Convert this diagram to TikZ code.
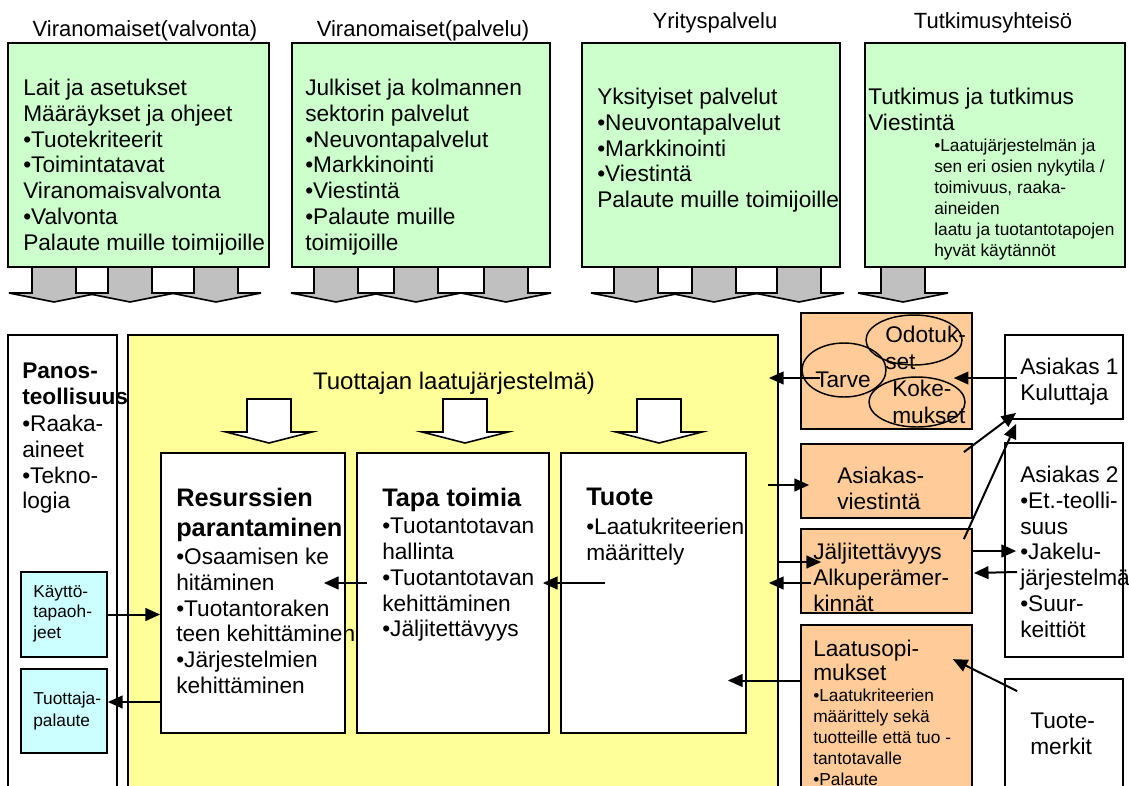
\documentclass[tikz,border=0pt]{standalone}
\usepackage{fontspec}
\setmainfont{Liberation Sans}
\usepackage{tikz}
\usetikzlibrary{fit,positioning,calc,arrows.meta,shapes.geometric}

\definecolor{grn}{RGB}{204,255,204}
\definecolor{yel}{RGB}{255,255,153}
\definecolor{org}{RGB}{255,204,153}
\definecolor{cyn}{RGB}{204,255,255}
\definecolor{gry}{RGB}{192,192,192}

\tikzset{
  bx/.style={draw, line width=1.3pt, inner sep=0pt},
  gbox/.style={bx, fill=grn},
  obox/.style={bx, fill=org},
  cbox/.style={bx, fill=cyn},
  wbox/.style={bx, fill=white},
  ell/.style={draw, ellipse, line width=1.1pt, inner sep=0pt},
  txt/.style={anchor=north west, inner sep=0pt, align=left, font=\fontsize{17}{19.3}\selectfont},
  sml/.style={txt, font=\fontsize{13}{15.75}\selectfont},
  hd/.style={txt, font=\bfseries\fontsize{19}{22.5}\selectfont},
  ttl/.style={inner sep=0pt, font=\fontsize{16.5}{19}\selectfont},
  garr/.style={draw, line width=1.2pt, fill=gry, line join=miter},
  harr/.style={draw, line width=1.2pt, fill=white, line join=miter},
  arr/.style={line width=1.5pt, -{Triangle[length=11pt,width=9.5pt]}},
}

\begin{document}
\begin{tikzpicture}[x=0.75pt,y=0.75pt,yscale=-1,xscale=1]
\useasboundingbox (0,0) rectangle (1129,786);
\clip (0,0) rectangle (1129,786);

% Titles
\node[ttl] (valvtit) at (145,31) {Viranomaiset(valvonta)};
\node[ttl] (palvtit) at (423,31) {Viranomaiset(palvelu)};
\node[ttl] (yrittit) at (715,23) {Yrityspalvelu};
\node[ttl] (tutktit) at (993,23) {Tutkimusyhteisö};

%Shape: green boxes
\node[gbox, fit={(8,43) (269,267)}] (valv) {};
\node[gbox, fit={(292,43) (550,267)}] (palv) {};
\node[gbox, fit={(582,43) (840,267)}] (yrit) {};
\node[gbox, fit={(865,43) (1125,267)}] (tutk) {};

%Shape: grey block arrows
\foreach \cx in {54,130,216,336,416,506,636,714,799,903}
  \draw[garr] (\cx-22,267) -- (\cx+22,267) -- (\cx+22,293) -- (\cx+45,293) -- (\cx,302) -- (\cx-45,293) -- (\cx-22,293) -- cycle;

% Text Node
\node[txt] (valvtxt) at (23,79) {Lait ja asetukset\\Määräykset ja ohjeet\\•Tuotekriteerit\\•Toimintatavat\\Viranomaisvalvonta\\•Valvonta\\Palaute muille toimijoille};
% Text Node
\node[txt] (palvtxt) at (305,79) {Julkiset ja kolmannen\\sektorin palvelut\\•Neuvontapalvelut\\•Markkinointi\\•Viestintä\\•Palaute muille\\toimijoille};
% Text Node
\node[txt] (yrittxt) at (597,88) {Yksityiset palvelut\\•Neuvontapalvelut\\•Markkinointi\\•Viestintä\\Palaute muille toimijoille};
% Text Node
\node[txt] (tutktxt) at (868,88) {Tutkimus ja tutkimus\\Viestintä};
\node[sml] (tutksml) at (934,139) {•Laatujärjestelmän ja\\sen eri osien nykytila /\\toimivuus, raaka-\\aineiden\\laatu ja tuotantotapojen\\hyvät käytännöt};

%Shape: lower frames
\node[wbox, fit={(8,335) (117,800)}] (panos) {};
\node[bx, fill=yel, fit={(128,335) (778,800)}] (yel) {};
\node[font=\fontsize{18}{21}\selectfont, inner sep=0pt] (yeltit) at (454,383) {Tuottajan laatujärjestelmä)};

%Shape: hollow arrows
\foreach \cx in {269,465,659}
  \draw[harr] (\cx-22,399) -- (\cx+22,399) -- (\cx+22,432) -- (\cx+43,432) -- (\cx,443) -- (\cx-43,432) -- (\cx-22,432) -- cycle;

\node[wbox, fit={(161,453) (345,733)}] (res) {};
\node[wbox, fit={(357,453) (549,733)}] (tapa) {};
\node[wbox, fit={(561,453) (746,733)}] (tuote) {};
\node[cbox, fit={(21,572) (107,657)}] (kay) {};
\node[cbox, fit={(21,669) (107,753)}] (tpal) {};

% Text Node
\node[txt, font=\bfseries\fontsize{17}{19.3}\selectfont] (panostit) at (22,363) {Panos-\\teollisuus};
\node[txt] (panostxt) at (22,415) {•Raaka-\\aineet\\•Tekno-\\logia};
\node[hd] (restit) at (176,488) {Resurssien\\parantaminen};
\node[txt] (restxt) at (176,548) {•Osaamisen ke\\hitäminen\\•Tuotantoraken\\teen kehittäminen\\•Järjestelmien\\kehittäminen};
\node[hd] (tapatit) at (382,488) {Tapa toimia};
\node[txt] (tapatxt) at (382,518) {•Tuotantotavan\\hallinta\\•Tuotantotavan\\kehittäminen\\•Jäljitettävyys};
\node[hd] (tuotetit) at (586,488) {Tuote};
\node[txt] (tuotetxt) at (586,518) {•Laatukriteerien\\määrittely};
\node[txt, font=\fontsize{13}{15.4}\selectfont] (kaytxt) at (33,585) {Käyttö-\\tapaoh-\\jeet};
\node[txt, font=\fontsize{13}{16.5}\selectfont] (tpaltxt) at (33,692) {Tuottaja-\\palaute};

%Shape: right column
\node[obox, fit={(801,313) (972,429)}] (odo) {};
\node[obox, fit={(801,444) (972,518)}] (asv) {};
\node[obox, fit={(801,529) (972,613)}] (jal) {};
\node[obox, fit={(801,625) (972,800)}] (lso) {};
\node[wbox, fit={(1005,335) (1123,419)}] (as1) {};
\node[wbox, fit={(1005,443) (1123,657)}] (as2) {};
\node[wbox, fit={(1005,679) (1123,800)}] (tmk) {};

\node[ell, minimum width=72pt, minimum height=37.5pt] (odotuk) at (914,340) {};
\node[ell, minimum width=63pt, minimum height=40.5pt] (tarve) at (844,370) {};
\node[ell, minimum width=72pt, minimum height=37.5pt] (koke) at (917,402) {};

% Text Node
\node[txt, font=\fontsize{17}{20}\selectfont] (odotxt) at (885,326) {Odotuk-\\set};
\node[txt] (tarvetxt) at (815,372) {Tarve};
\node[txt, font=\fontsize{17}{20}\selectfont] (koketxt) at (892,380) {Koke-\\mukset};
\node[txt] (asvtxt) at (837,467) {Asiakas-\\viestintä};
\node[txt] (jaltxt) at (813,543) {Jäljitettävyys\\Alkuperämer-\\kinnät};
\node[txt, font=\fontsize{17}{17.5}\selectfont] (lsotxt) at (813,640) {Laatusopi-\\mukset};
\node[sml] (lsosml) at (813,689) {•Laatukriteerien\\määrittely sekä\\tuotteille että tuo -\\tantotavalle\\•Palaute};
\node[txt] (as1txt) at (1020,358) {Asiakas 1\\Kuluttaja};
\node[txt] (as2txt) at (1020,466) {Asiakas 2\\•Et.-teolli-\\suus\\•Jakelu-\\järjestelmä\\•Suur-\\keittiöt};
\node[txt] (tmktxt) at (1030,713) {Tuote-\\merkit};

%Straight Lines
\draw[arr] (kay.east) -- (kay.east -| res.west);
\coordinate (tp) at ($(tpal.east)+(0,-9)$);
\draw[arr] (tp -| res.west) -- (tp);
\draw[arr] ($(tapa.west)+(11,-10)$) -- ($(res.east)+(-22,-10)$);
\draw[arr] ($(tuote.west)+(45,-10)$) -- ($(tapa.east)+(-7,-10)$);
\coordinate (ta) at ($(tarve.center)+(-24,8)$);
\draw[arr] (ta) -- ($(ta -| yel.east)+(-10,0)$);
\draw[arr] ($(as1.west)+(13,1)$) -- ($(as1.west -| koke.east)+(-12,1)$);
\draw[arr] ($(yel.east |- asv.west)+(-11,4)$) -- ($(asv.west)+(9,4)$);
\draw[arr] ($(asv.north east)+(-9,9)$) -- ($(as1.south west)+(12,-7)$);
\draw[arr] ($(jal.north east)+(-9,11)$) -- ($(as1.south west)+(12,4)$);
\draw[arr] ($(yel.east |- jal.west)+(0,-9)$) -- ($(jal.west)+(21,-9)$);
\draw[arr] ($(jal.west)+(11,12)$) -- ($(yel.east |- jal.west)+(-10,12)$);
\draw[arr] ($(jal.east)+(0,-20)$) -- ($(jal.east -| as2.west)+(12,-20)$);
\draw[arr] ($(jal.east -| as2.west)+(13,1)$) -- ($(jal.east)+(1,2)$);
\draw[arr] ($(lso.west)+(0,-32)$) -- ($(tuote.east |- lso.west)+(-19,-32)$);
\draw[arr] ($(tmk.north west)+(13,13)$) -- ($(lso.north east)+(-20,35)$);

\end{tikzpicture}
\end{document}
